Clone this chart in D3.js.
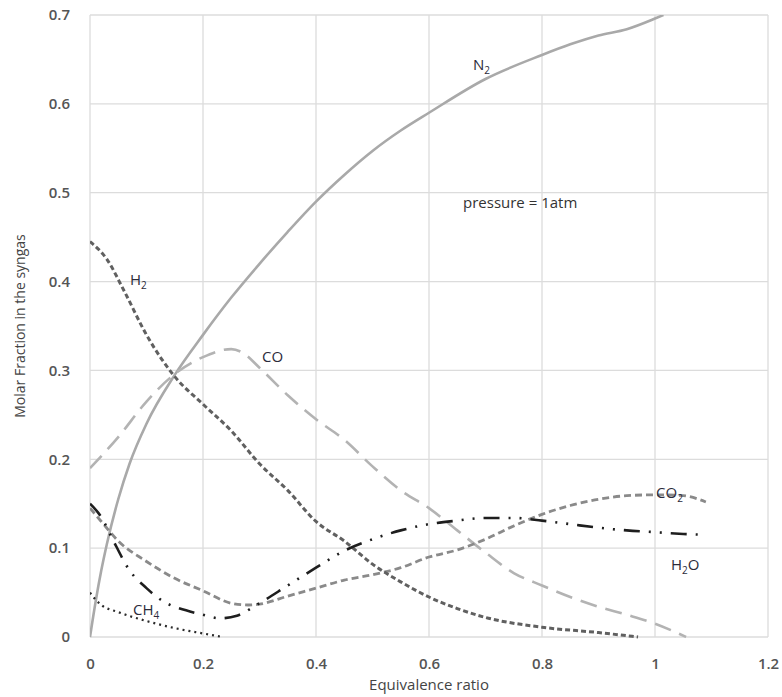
<!DOCTYPE html>
<html>
<head>
<meta charset="utf-8">
<script src="https://cdn.jsdelivr.net/npm/d3@7"></script>
<style>
  body { margin: 0; background: #fff; }
  text { font-family: "Open Sans", sans-serif; }
</style>
</head>
<body>
<div id="chart"></div>
<script>
// values (equivalence ratio -> molar fraction)
var n2X = [0, 0.01, 0.02, 0.03, 0.05, 0.07, 0.1, 0.15, 0.2, 0.25, 0.3, 0.35, 0.4, 0.45, 0.5, 0.55, 0.6, 0.7, 0.8, 0.85, 0.9, 0.95, 1.0, 1.015];
var n2Y = [0, 0.04, 0.075, 0.105, 0.155, 0.195, 0.24, 0.295, 0.34, 0.382, 0.42, 0.456, 0.49, 0.52, 0.547, 0.57, 0.59, 0.628, 0.655, 0.667, 0.677, 0.684, 0.696, 0.7];

var h2X = [0, 0.03, 0.06, 0.1, 0.15, 0.2, 0.25, 0.3, 0.35, 0.4, 0.45, 0.5, 0.55, 0.6, 0.65, 0.7, 0.8, 0.9, 0.97];
var h2Y = [0.445, 0.425, 0.39, 0.34, 0.293, 0.262, 0.232, 0.195, 0.165, 0.13, 0.108, 0.082, 0.062, 0.045, 0.032, 0.022, 0.011, 0.005, 0];

var coX = [0, 0.05, 0.1, 0.15, 0.2, 0.25, 0.27, 0.3, 0.35, 0.4, 0.45, 0.5, 0.55, 0.6, 0.65, 0.7, 0.75, 0.8, 0.85, 0.9, 0.95, 1.0, 1.055];
var coY = [0.19, 0.225, 0.265, 0.296, 0.315, 0.324, 0.32, 0.303, 0.272, 0.245, 0.222, 0.192, 0.165, 0.145, 0.12, 0.095, 0.072, 0.058, 0.045, 0.034, 0.025, 0.015, 0];

var co2X = [0, 0.02, 0.05, 0.1, 0.15, 0.2, 0.25, 0.28, 0.3, 0.35, 0.4, 0.45, 0.5, 0.55, 0.6, 0.65, 0.7, 0.75, 0.8, 0.85, 0.9, 0.95, 1.0, 1.05, 1.09];
var co2Y = [0.145, 0.13, 0.108, 0.085, 0.066, 0.052, 0.038, 0.036, 0.037, 0.046, 0.055, 0.064, 0.07, 0.078, 0.09, 0.098, 0.11, 0.125, 0.138, 0.148, 0.155, 0.159, 0.16, 0.159, 0.152];

var h2oX = [0, 0.02, 0.04, 0.07, 0.1, 0.13, 0.17, 0.2, 0.23, 0.26, 0.3, 0.35, 0.4, 0.45, 0.5, 0.55, 0.6, 0.65, 0.7, 0.75, 0.8, 0.85, 0.9, 0.95, 1.0, 1.05, 1.09];
var h2oY = [0.15, 0.135, 0.11, 0.075, 0.055, 0.04, 0.03, 0.025, 0.021, 0.024, 0.038, 0.058, 0.078, 0.097, 0.11, 0.12, 0.127, 0.131, 0.134, 0.134, 0.131, 0.127, 0.123, 0.12, 0.118, 0.116, 0.115];

var ch4X = [0, 0.01, 0.02, 0.05, 0.1, 0.15, 0.2, 0.235];
var ch4Y = [0.05, 0.042, 0.036, 0.028, 0.018, 0.01, 0.004, 0];

var xTicks = [0, 0.2, 0.4, 0.6, 0.8, 1, 1.2];
var yTicks = [0, 0.1, 0.2, 0.3, 0.4, 0.5, 0.6, 0.7];

function main() {
    var margin = { top: 15, right: 14, bottom: 60, left: 90 };

    var svg = d3.select("#chart")
        .append("svg")
        .attr("width", 782)
        .attr("height", 697)
        .append("g")
        .attr("transform", "translate(" + margin.left + "," + margin.top + ")");

    var x = d3.scaleLinear().domain([0, 1.2]).range([0, 678]);
    var y = d3.scaleLinear().domain([0, 0.7]).range([622, 0]);

    // grid
    svg.append("g")
        .selectAll("line.v")
        .data(xTicks)
        .enter()
        .append("line")
        .attr("x1", function (d) { return x(d); })
        .attr("x2", function (d) { return x(d); })
        .attr("y1", y(0))
        .attr("y2", y(0.7))
        .attr("stroke", "#dcdcdc")
        .attr("stroke-width", 1.3);
    svg.append("g")
        .selectAll("line.h")
        .data(yTicks)
        .enter()
        .append("line")
        .attr("x1", x(0))
        .attr("x2", x(1.2))
        .attr("y1", function (d) { return y(d); })
        .attr("y2", function (d) { return y(d); })
        .attr("stroke", "#dcdcdc")
        .attr("stroke-width", 1.3);

    // axes (labels only, lines come from grid)
    var fmt = function (d) { return d === 0 ? "0" : String(d); };
    var xAxis = svg.append("g")
        .attr("transform", "translate(0," + y(0) + ")")
        .call(d3.axisBottom(x).tickValues(xTicks).tickFormat(fmt).tickSize(0).tickPadding(21));
    var yAxis = svg.append("g")
        .call(d3.axisLeft(y).tickValues(yTicks).tickFormat(fmt).tickSize(0).tickPadding(20));
    [xAxis, yAxis].forEach(function (a) {
        a.select(".domain").remove();
        a.selectAll("text")
            .attr("font-family", "Open Sans, sans-serif")
            .attr("font-size", "15px")
            .attr("font-weight", "600")
            .attr("fill", "#555");
    });

    svg.append("defs").append("clipPath")
        .attr("id", "clip")
        .append("rect")
        .attr("x", 0).attr("y", 0)
        .attr("width", x(1.2)).attr("height", y(0) + 2);

    var series = [
        { xs: n2X, ys: n2Y, color: "#a9a9a9", w: 2.6, dash: null },
        { xs: coX, ys: coY, color: "#b3b3b3", w: 2.6, dash: "17,9" },
        { xs: co2X, ys: co2Y, color: "#8a8a8a", w: 2.8, dash: "7,4" },
        { xs: h2X, ys: h2Y, color: "#606060", w: 3, dash: "5,3" },
        { xs: h2oX, ys: h2oY, color: "#1e1e1e", w: 2.6, dash: "16,9,2,9,2,9" },
        { xs: ch4X, ys: ch4Y, color: "#2a2a2a", w: 2.2, dash: "2,4" }
    ];

    var line = d3.line()
        .x(function (d) { return x(d[0]); })
        .y(function (d) { return y(d[1]); })
        .curve(d3.curveMonotoneX);

    svg.append("g")
        .attr("clip-path", "url(#clip)")
        .selectAll("path")
        .data(series)
        .enter()
        .append("path")
        .attr("d", function (s) { return line(d3.zip(s.xs, s.ys)); })
        .attr("fill", "none")
        .attr("stroke", function (s) { return s.color; })
        .attr("stroke-width", function (s) { return s.w; })
        .attr("stroke-dasharray", function (s) { return s.dash; });

    // curve labels (main text + subscript)
    var labels = [
        { t: "N", sub: "2", after: "", x: 383, y: 55 },
        { t: "H", sub: "2", after: "", x: 40, y: 270 },
        { t: "CO", sub: "", after: "", x: 172, y: 347 },
        { t: "CO", sub: "2", after: "", x: 566, y: 483 },
        { t: "H", sub: "2", after: "O", x: 581, y: 555 },
        { t: "CH", sub: "4", after: "", x: 43, y: 600 }
    ];
    labels.forEach(function (l) {
        var t = svg.append("text")
            .attr("x", l.x)
            .attr("y", l.y)
            .attr("font-size", "15px")
            .attr("fill", "#2b2b3a");
        t.append("tspan").text(l.t);
        if (l.sub) {
            t.append("tspan").attr("font-size", "10px").attr("dy", 4).text(l.sub);
        }
        if (l.after) {
            t.append("tspan").attr("dy", -4).text(l.after);
        }
    });

    svg.append("text")
        .attr("x", 373)
        .attr("y", 193)
        .attr("font-size", "15px")
        .attr("fill", "#333")
        .text("pressure = 1atm");

    // axis titles
    svg.append("text")
        .attr("x", x(0.6))
        .attr("y", 675)
        .attr("text-anchor", "middle")
        .attr("font-size", "15px")
        .attr("fill", "#444")
        .text("Equivalence ratio");

    svg.append("text")
        .attr("transform", "translate(-65," + y(0.35) + ")rotate(-90)")
        .attr("text-anchor", "middle")
        .attr("font-size", "14px")
        .attr("fill", "#444")
        .text("Molar Fraction in the syngas");
}
window.addEventListener('load', main);
</script>
</body>
</html>
